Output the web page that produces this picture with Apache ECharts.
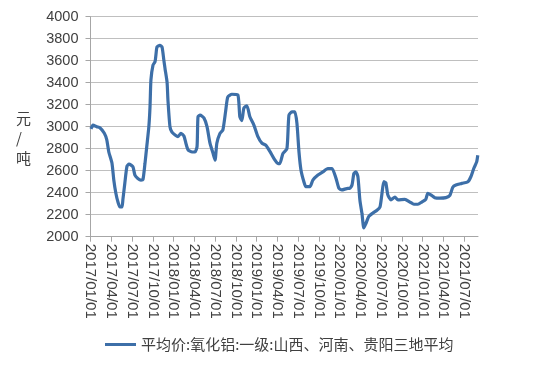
<!DOCTYPE html>
<html>
<head>
<meta charset="utf-8">
<script src="https://cdn.jsdelivr.net/npm/echarts@6/dist/echarts.min.js"></script>
<style>html,body{margin:0;padding:0;background:#fff}#c{width:550px;height:366px}</style>
</head>
<body>
<div id="c"></div>
<script>
const seriesName = '平均价:氧化铝:一级:山西、河南、贵阳三地平均';
const yTicks = [2000, 2200, 2400, 2600, 2800, 3000, 3200, 3400, 3600, 3800, 4000];
const xTickLabels = ['2017/01/01','2017/04/01','2017/07/01','2017/10/01','2018/01/01','2018/04/01','2018/07/01','2018/10/01','2019/01/01','2019/04/01','2019/07/01','2019/10/01','2020/01/01','2020/04/01','2020/07/01','2020/10/01','2021/01/01','2021/04/01','2021/07/01'];
const dates = [
'2017/01/03','2017/01/12','2017/01/29','2017/02/11','2017/03/01','2017/03/12','2017/03/21','2017/04/04','2017/04/12','2017/04/21','2017/04/30','2017/05/09','2017/05/18','2017/05/22','2017/05/31','2017/06/09','2017/06/18','2017/07/05','2017/07/14','2017/07/27','2017/08/10','2017/08/19','2017/08/28','2017/09/05','2017/09/14','2017/09/19','2017/09/23','2017/10/02','2017/10/11','2017/10/15','2017/10/20','2017/11/02','2017/11/11','2017/11/19','2017/11/24','2017/12/03','2017/12/07','2017/12/16','2017/12/25',
'2018/01/08','2018/01/21','2018/02/03','2018/02/15','2018/02/23','2018/03/04','2018/03/22','2018/04/04','2018/04/13','2018/04/17','2018/04/26','2018/05/13','2018/05/27','2018/06/09','2018/06/22','2018/07/01','2018/07/09','2018/07/23','2018/08/05','2018/08/18','2018/08/27','2018/09/14','2018/10/10','2018/10/19','2018/10/28','2018/11/06','2018/11/19','2018/12/02','2018/12/20',
'2019/01/07','2019/01/25','2019/02/11','2019/02/27','2019/03/17','2019/04/04','2019/04/12','2019/04/25','2019/05/13','2019/05/22','2019/06/04','2019/06/17','2019/06/26','2019/07/05','2019/07/14','2019/07/27','2019/08/05','2019/08/23','2019/09/05','2019/09/27','2019/10/19','2019/11/10','2019/11/28','2019/12/16','2019/12/29',
'2020/01/11','2020/02/07','2020/02/15','2020/02/24','2020/03/03','2020/03/12','2020/03/21','2020/03/30','2020/04/08','2020/04/16','2020/04/25','2020/05/08','2020/05/26','2020/06/13','2020/06/26','2020/07/04','2020/07/13','2020/07/22','2020/07/31','2020/08/14','2020/09/01','2020/09/14','2020/10/14','2020/11/06','2020/11/23','2020/12/11','2020/12/28',
'2021/01/15','2021/01/24','2021/02/06','2021/02/22','2021/03/16','2021/04/12','2021/04/29','2021/05/12','2021/05/26','2021/06/21','2021/07/18','2021/07/31','2021/08/13','2021/08/26','2021/08/31'
];
const values = [
2980,3015,3000,2990,2940,2880,2770,2670,2515,2395,2315,2270,2270,2335,2490,2640,2660,2635,2560,2530,2515,2520,2665,2820,3000,3180,3425,3560,3590,3650,3725,3740,3725,3605,3530,3405,3240,3000,2950,
2925,2910,2940,2915,2850,2790,2770,2770,2820,3090,3105,3080,3000,2850,2760,2695,2850,2940,2970,3150,3270,3295,3290,3090,3055,3170,3190,3090,3015,
2910,2850,2830,2775,2710,2665,2665,2755,2800,3105,3135,3135,3030,2770,2605,2500,2455,2455,2515,2560,2590,2620,2620,2530,2440,
2425,2440,2440,2470,2575,2590,2545,2330,2210,2080,2120,2185,2215,2240,2270,2380,2500,2490,2380,2335,2360,2335,2340,2315,2295,2295,2315,
2340,2395,2380,2355,2350,2355,2375,2450,2470,2485,2500,2545,2620,2680,2740
];

const daysIn = (y, m) => new Date(y, m, 0).getDate();
function toMonthIndex(s) {
  const [y, m, d] = s.split('/').map(Number);
  return (y - 2017) * 12 + (m - 1) + (d - 1) / daysIn(y, m);
}
const tickMonths = xTickLabels.map(toMonthIndex);
const data = dates.map((d, i) => [toMonthIndex(d), values[i]]);

const chart = echarts.init(document.getElementById('c'));
chart.setOption({
  animation: false,
  grid: { left: 90.5, right: 72, top: 16.7, bottom: 129.3, containLabel: false },
  legend: {
    left: 100, top: 332, itemWidth: 31, itemHeight: 3, itemGap: 4, icon: 'rect',
    textStyle: { fontSize: 15, color: '#404040', fontFamily: '"Noto Sans CJK SC", sans-serif' },
    data: [seriesName]
  },
  graphic: [{
    type: 'text', left: 16, top: 108,
    style: { text: '元\n/\n吨', fontSize: 15, lineHeight: 20, fill: '#404040', align: 'center', fontFamily: '"Noto Sans CJK SC", sans-serif' }
  }],
  xAxis: {
    type: 'value', min: 0, max: 56,
    splitLine: { show: false },
    axisLine: { lineStyle: { color: '#a6a6a6' } },
    axisTick: { show: true, length: 5, customValues: tickMonths, lineStyle: { color: '#a6a6a6' } },
    axisLabel: {
      customValues: tickMonths, rotate: -90, margin: 7,
      fontSize: 15, color: '#404040', fontFamily: '"Liberation Sans", Arial, sans-serif',
      formatter: v => { const i = tickMonths.findIndex(t => Math.abs(t - v) < 1e-6); return i >= 0 ? xTickLabels[i] : ''; }
    }
  },
  yAxis: {
    type: 'value', min: yTicks[0], max: yTicks[yTicks.length - 1], interval: 200,
    axisLine: { show: true, lineStyle: { color: '#a6a6a6' } },
    axisTick: { show: true, length: 5, lineStyle: { color: '#a6a6a6' } },
    splitLine: { lineStyle: { color: '#bfbfbf', width: 1 } },
    axisLabel: { fontSize: 14.5, color: '#404040', margin: 12, fontFamily: '"Liberation Sans", Arial, sans-serif', formatter: v => String(v) }
  },
  series: [{
    name: seriesName, type: 'line', data: data, symbol: 'none', smooth: 0.2,
    lineStyle: { color: '#3d6fa8', width: 3.2 },
    itemStyle: { color: '#3d6fa8' }
  }]
});
</script>
</body>
</html>
